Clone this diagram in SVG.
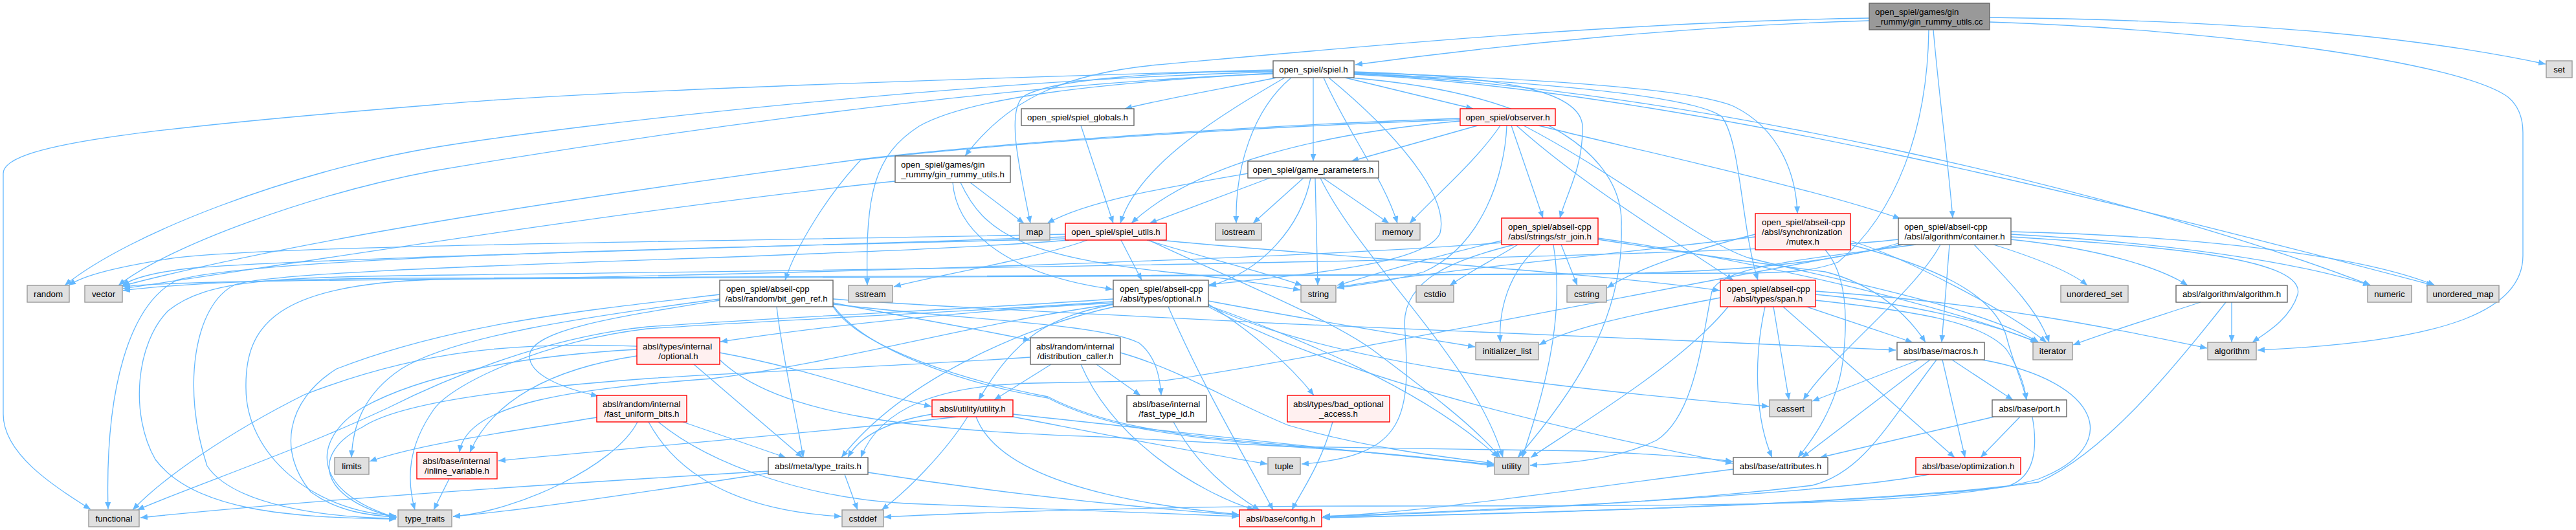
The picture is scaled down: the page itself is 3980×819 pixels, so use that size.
<svg xmlns="http://www.w3.org/2000/svg" width="3980" height="819" viewBox="0 0 3980 819">
<style>
.e path{fill:none;stroke:#63b8ff;stroke-width:1.3;marker-end:url(#ah)}
.n rect{stroke-width:1.4}
.ext rect{fill:#e0e0e0;stroke:#999999}
.loc rect{fill:#ffffff;stroke:#666666}
.tr rect{fill:#fff0f0;stroke:#ff0000}
.root rect{fill:#999999;stroke:#666666}
text{font-family:"Liberation Sans",Arial,Helvetica,sans-serif;font-size:13.3px;fill:#000}
.c{text-anchor:middle}
</style>
<defs>
<marker id="ah" viewBox="0 0 11 9" refX="11" refY="4.5" markerWidth="11" markerHeight="9" markerUnits="userSpaceOnUse" orient="auto"><path d="M0,0L11,4.5L0,9z" fill="#63b8ff"/></marker>
</defs>
<rect x="0" y="0" width="3980" height="819" fill="#ffffff"/>
<g class="e" id="edges">
<path d="M2888,32 C2600,40 2300,72 2094,100"/>
<path d="M2888,28 C2500,34 2100,72 1790,100 C1650,113 1560,150 1491,241"/>
<path d="M3074,27 C3500,32 3750,60 3933,99"/>
<path d="M3074,34 C3420,45 3800,95 3875,150 C3893,165 3898,185 3898,205 L3898,395 C3898,480 3780,528 3488,541"/>
<path d="M2987,46 C2996,150 3010,250 3017,337"/>
<path d="M2980,46 C2978,200 2930,330 2840,405 C2800,420 2760,421 2700,422 L600,430 C400,432 260,440 190,449"/>
<path d="M1967,108 C1600,118 900,140 670,162 C200,200 5,225 5,268 L5,640 C5,700 80,750 140,787"/>
<path d="M1967,111 C1500,124 900,190 670,228 C450,265 200,360 100,441"/>
<path d="M1967,114 C1500,130 900,225 670,264 C480,300 260,380 183,441"/>
<path d="M1967,110 C1800,110 1620,122 1580,150 C1555,175 1575,260 1592,345"/>
<path d="M1972,120 C1900,135 1800,152 1738,168"/>
<path d="M1985,120 C1900,170 1760,250 1731,345"/>
<path d="M1995,120 C1935,170 1908,260 1910,345"/>
<path d="M2029,120 L2029,249"/>
<path d="M2045,120 C2080,200 2140,280 2159,345"/>
<path d="M2078,120 L2276,168"/>
<path d="M2092,111 C2300,118 2450,135 2445,200 C2445,260 2420,300 2410,337"/>
<path d="M2092,112 C2400,122 2620,138 2680,165 C2750,200 2775,270 2777,330"/>
<path d="M2092,113 C2400,128 2620,150 2660,180 C2690,220 2690,350 2716,433"/>
<path d="M2092,114 C2600,135 3300,300 3663,441"/>
<path d="M2092,115 C2600,140 3300,320 3760,441"/>
<path d="M2053,120 C2150,200 2240,300 2225,360 C2205,410 2000,425 1868,440"/>
<path d="M2085,120 C2400,145 2510,250 2505,350 C2510,500 2420,620 2345,707"/>
<path d="M1967,113 C1700,128 1500,150 1420,195 C1350,240 1337,300 1340,441"/>
<path d="M2256,183 C1900,195 1500,225 1330,246 C1000,290 500,360 188,442"/>
<path d="M2256,185 C1900,197 1500,226 1330,247 C1280,300 1230,380 1213,433"/>
<path d="M2256,187 C2050,205 1850,250 1748,345"/>
<path d="M2283,194 L2088,249"/>
<path d="M2318,194 C2280,250 2220,300 2178,345"/>
<path d="M2328,194 C2325,270 2290,380 2200,420 C2150,435 2100,440 2066,445"/>
<path d="M2335,194 L2384,337"/>
<path d="M2343,194 C2450,290 2600,380 2678,433"/>
<path d="M2354,194 C2500,270 2620,370 2700,398 C2800,425 3050,470 3150,529"/>
<path d="M2377,194 C2500,225 2800,290 2936,338"/>
<path d="M1383,280 C1000,320 500,400 190,446"/>
<path d="M1499,282 L1582,345"/>
<path d="M1472,282 C1478,360 1560,425 1719,447"/>
<path d="M1484,282 C1520,360 1580,395 1800,420 C1900,430 1960,440 2009,448"/>
<path d="M1928,268 C1800,290 1680,310 1618,345"/>
<path d="M1962,275 L1776,345"/>
<path d="M2014,275 L1936,345"/>
<path d="M2025,275 C2010,350 1950,420 1868,442"/>
<path d="M2032,275 L2036,441"/>
<path d="M2040,275 C2100,400 2280,560 2322,707"/>
<path d="M2044,275 L2146,345"/>
<path d="M1646,362 C1200,372 400,378 260,400 C180,413 130,425 106,441"/>
<path d="M1646,366 C1200,382 500,398 300,414 C240,420 205,430 189,441"/>
<path d="M1648,369 C1000,385 400,398 273,433 C200,470 162,600 167,787"/>
<path d="M1652,371 C1300,400 450,410 363,440 C300,470 280,600 320,720 C360,780 500,800 612,801"/>
<path d="M1680,371 C1600,400 1450,425 1381,443"/>
<path d="M1732,371 L1764,433"/>
<path d="M1772,371 C1850,395 1950,420 2012,441"/>
<path d="M1775,371 C1900,430 2050,490 2120,540 C2200,600 2280,660 2318,707"/>
<path d="M1790,371 C2100,400 2450,420 2657,449"/>
<path d="M1670,194 L1720,345"/>
<path d="M2345,378 C2310,400 2270,420 2240,441"/>
<path d="M2412,378 L2437,441"/>
<path d="M2380,378 C2330,420 2315,480 2318,529"/>
<path d="M2320,372 C2200,400 2120,425 2066,441"/>
<path d="M2340,378 C2250,400 2170,430 2170,500 C2180,640 2175,705 2011,717"/>
<path d="M2400,378 C2420,500 2380,620 2352,707"/>
<path d="M2469,368 C2700,400 3000,470 3148,529"/>
<path d="M2320,375 C2000,400 1200,425 670,432 C430,440 378,500 380,600 C380,700 480,790 612,797"/>
<path d="M2469,370 C2600,390 2700,405 2820,420 C2900,440 2950,490 2975,529"/>
<path d="M2712,362 C2600,390 2520,420 2483,445"/>
<path d="M2712,366 C2500,392 2200,420 2066,444"/>
<path d="M2859,372 C2950,400 3100,480 3162,529"/>
<path d="M2820,386 C2850,420 2857,480 2847,560 C2837,630 2800,680 2778,707"/>
<path d="M2859,378 C2980,410 3080,450 3100,520 C3110,560 3125,590 3131,618"/>
<path d="M2998,378 C2960,450 2830,550 2786,618"/>
<path d="M3050,378 C3100,430 3150,480 3166,529"/>
<path d="M3080,378 C3150,400 3200,420 3225,441"/>
<path d="M3107,370 C3250,385 3340,415 3380,441"/>
<path d="M3107,362 C3350,375 3550,405 3662,441"/>
<path d="M3107,358 C3400,365 3650,395 3762,441"/>
<path d="M3107,366 C3300,378 3565,395 3550,455 C3538,495 3495,518 3480,529"/>
<path d="M3012,378 L3000,529"/>
<path d="M2960,378 C2800,400 2660,410 2645,450 C2630,520 2620,640 2560,680 C2500,710 2420,716 2364,719"/>
<path d="M2933,376 C2800,415 2600,423 2400,424 L700,431 C420,434 250,436 190,443"/>
<path d="M2933,370 C2700,398 1500,415 700,425 C420,428 320,432 260,480 C210,530 200,640 240,710 C300,790 450,800 612,802"/>
<path d="M2940,378 C2600,440 2000,560 1800,588 L1600,592 C1450,595 1360,630 1330,707"/>
<path d="M1112,462 C900,490 700,520 620,570 C560,610 545,660 543,707"/>
<path d="M1112,455 C900,480 700,500 520,570 C440,620 430,700 480,760 C520,790 570,797 613,799"/>
<path d="M1112,464 C950,490 820,510 818,550 C818,580 870,600 924,612"/>
<path d="M1200,474 C1210,560 1230,640 1241,707"/>
<path d="M1287,468 C1400,490 1520,510 1592,526"/>
<path d="M1287,470 C1500,495 1700,500 1760,530 C1785,550 1792,580 1794,611"/>
<path d="M1287,474 C1330,540 1500,590 1619,613 C1700,655 1800,672 1990,688 C2150,702 2250,712 2308,718"/>
<path d="M1287,472 C1340,545 1500,595 1619,615 C1700,657 1800,674 1990,690 L2450,697 C2560,702 2620,706 2677,713"/>
<path d="M1287,462 C1500,478 1800,490 1980,500 L2640,528 L2929,541"/>
<path d="M1720,468 C1500,480 1300,500 1113,528"/>
<path d="M1722,470 C1620,490 1570,520 1512,618"/>
<path d="M1805,474 C1860,600 1920,700 1967,788"/>
<path d="M1867,470 C1930,510 1990,560 2030,611"/>
<path d="M1867,465 C2000,490 2150,515 2279,536"/>
<path d="M1867,472 C2000,520 2200,600 2315,707"/>
<path d="M1867,472 C2050,560 2400,600 2733,628"/>
<path d="M1867,474 C2100,600 2500,680 2677,716"/>
<path d="M1720,462 C1500,478 1200,490 1000,505 C850,520 700,580 600,630 C450,700 300,750 212,788"/>
<path d="M1720,466 C1500,482 1200,494 1000,508 C850,525 700,590 670,633 C630,690 628,740 641,788"/>
<path d="M1720,470 C1500,500 1300,560 1100,585 C900,600 720,620 710,699"/>
<path d="M1722,474 C1600,500 1400,580 1300,707"/>
<path d="M2740,474 L2764,618"/>
<path d="M2727,474 C2708,560 2713,650 2738,707"/>
<path d="M2755,474 L3020,707"/>
<path d="M2791,474 L2955,529"/>
<path d="M2805,455 C2950,468 3080,500 3150,530"/>
<path d="M2805,464 C2950,480 3060,495 3100,540 C3120,570 3128,595 3131,618"/>
<path d="M2805,450 C3100,470 3300,515 3410,538"/>
<path d="M2658,460 C2500,490 2420,510 2378,533"/>
<path d="M2670,474 C2600,560 2450,650 2365,707"/>
<path d="M3448,467 L3448,529"/>
<path d="M3400,467 C3330,490 3250,515 3203,533"/>
<path d="M3439,467 C3350,580 3250,700 3150,745 C2900,780 2300,795 2043,800"/>
<path d="M1072,563 L1240,707"/>
<path d="M984,550 C850,570 760,620 726,699"/>
<path d="M984,540 C800,550 650,580 560,630 C480,680 480,760 612,800"/>
<path d="M984,535 C800,528 650,540 470,610 C350,670 250,740 205,788"/>
<path d="M1112,545 C1250,570 1350,610 1439,628"/>
<path d="M1112,556 C1200,640 1400,665 1700,675 L1990,690 C2150,700 2250,712 2308,720"/>
<path d="M1624,563 L1536,618"/>
<path d="M1694,563 L1762,611"/>
<path d="M1670,563 C1720,680 1850,760 1938,788"/>
<path d="M1731,545 C1820,570 1900,620 1990,657 C2100,690 2220,705 2308,716"/>
<path d="M1592,552 C1400,565 1150,575 1000,585 C800,600 620,620 560,660 C480,700 490,770 612,800"/>
<path d="M985,652 C950,720 800,790 700,798"/>
<path d="M1002,652 C1050,740 1150,790 1300,798"/>
<path d="M1017,652 C1100,720 1250,770 1400,778 L1914,798"/>
<path d="M1055,652 L1214,707"/>
<path d="M922,645 C800,665 650,685 571,713"/>
<path d="M1480,644 C1300,665 1000,690 770,712"/>
<path d="M1495,644 C1460,700 1400,760 1362,788"/>
<path d="M1508,644 C1540,730 1700,775 1914,795"/>
<path d="M1565,640 C1800,665 2100,700 2308,718"/>
<path d="M1565,644 C1700,670 1850,700 1958,717"/>
<path d="M1440,640 C1380,650 1330,670 1310,707"/>
<path d="M1813,652 C1850,720 1900,760 1946,788"/>
<path d="M2059,652 C2040,720 2010,760 1996,788"/>
<path d="M2965,556 L2800,620"/>
<path d="M2982,556 L2784,707"/>
<path d="M2992,556 C2920,650 2880,730 2800,750 C2600,775 2300,790 2044,799"/>
<path d="M3001,556 L3036,707"/>
<path d="M3016,556 L3110,618"/>
<path d="M3063,556 C3250,590 3280,690 3150,740 C3000,785 2600,781 2100,782 C1800,782 1500,792 1366,799"/>
<path d="M3081,644 L2812,707"/>
<path d="M3121,644 L3060,707"/>
<path d="M3140,644 C3150,700 3140,740 3100,752 C2900,777 2400,792 2044,800"/>
<path d="M2678,725 C2400,760 2200,792 2044,798"/>
<path d="M2980,733 C2850,760 2400,785 2044,798"/>
<path d="M1305,733 L1325,788"/>
<path d="M1187,728 C900,745 500,770 217,800"/>
<path d="M1187,731 C1000,760 800,790 700,798"/>
<path d="M1341,730 C1500,755 1700,780 1914,796"/>
<path d="M694,740 L670,788"/>
</g>
<g id="n1" class="n root"><rect x="2888" y="5" width="186" height="41"/><text x="2897" y="23">open_spiel/games/gin</text><text class="c" x="2981" y="38">_rummy/gin_rummy_utils.cc</text></g>
<g id="n2" class="n loc"><rect x="1967" y="94" width="125" height="26"/><text class="c" x="2029.5" y="111.5">open_spiel/spiel.h</text></g>
<g id="n3" class="n ext"><rect x="3934" y="94" width="40" height="26"/><text class="c" x="3954" y="111.5">set</text></g>
<g id="n4" class="n loc"><rect x="1578" y="168" width="174" height="26"/><text class="c" x="1665" y="185.5">open_spiel/spiel_globals.h</text></g>
<g id="n5" class="n tr"><rect x="2256" y="168" width="147" height="26"/><text class="c" x="2329.5" y="185.5">open_spiel/observer.h</text></g>
<g id="n6" class="n loc"><rect x="1383" y="241" width="178" height="41"/><text x="1392" y="259">open_spiel/games/gin</text><text class="c" x="1472" y="274">_rummy/gin_rummy_utils.h</text></g>
<g id="n7" class="n loc"><rect x="1928" y="249" width="202" height="26"/><text class="c" x="2029" y="266.5">open_spiel/game_parameters.h</text></g>
<g id="n8" class="n ext"><rect x="1575" y="345" width="47" height="26"/><text class="c" x="1598.5" y="362.5">map</text></g>
<g id="n9" class="n tr"><rect x="1646" y="345" width="156" height="26"/><text class="c" x="1724" y="362.5">open_spiel/spiel_utils.h</text></g>
<g id="n10" class="n ext"><rect x="1878" y="345" width="71" height="26"/><text class="c" x="1913.5" y="362.5">iostream</text></g>
<g id="n11" class="n ext"><rect x="2125" y="345" width="69" height="26"/><text class="c" x="2159.5" y="362.5">memory</text></g>
<g id="n12" class="n tr"><rect x="2320" y="337" width="149" height="41"/><text x="2330" y="355">open_spiel/abseil-cpp</text><text class="c" x="2394.5" y="370">/absl/strings/str_join.h</text></g>
<g id="n13" class="n tr"><rect x="2712" y="330" width="147" height="56"/><text x="2722" y="348">open_spiel/abseil-cpp</text><text x="2722" y="363">/absl/synchronization</text><text class="c" x="2785.5" y="378">/mutex.h</text></g>
<g id="n14" class="n loc"><rect x="2933" y="337" width="174" height="41"/><text x="2942" y="355">open_spiel/abseil-cpp</text><text class="c" x="3020" y="370">/absl/algorithm/container.h</text></g>
<g id="n15" class="n ext"><rect x="42" y="441" width="65" height="26"/><text class="c" x="74.5" y="458.5">random</text></g>
<g id="n16" class="n ext"><rect x="131" y="441" width="58" height="26"/><text class="c" x="160" y="458.5">vector</text></g>
<g id="n17" class="n loc"><rect x="1112" y="433" width="175" height="41"/><text x="1122" y="451">open_spiel/abseil-cpp</text><text class="c" x="1199.5" y="466">/absl/random/bit_gen_ref.h</text></g>
<g id="n18" class="n ext"><rect x="1311" y="441" width="68" height="26"/><text class="c" x="1345" y="458.5">sstream</text></g>
<g id="n19" class="n loc"><rect x="1720" y="433" width="147" height="41"/><text x="1730" y="451">open_spiel/abseil-cpp</text><text class="c" x="1793.5" y="466">/absl/types/optional.h</text></g>
<g id="n20" class="n ext"><rect x="2010" y="441" width="54" height="26"/><text class="c" x="2037" y="458.5">string</text></g>
<g id="n21" class="n ext"><rect x="2188" y="441" width="58" height="26"/><text class="c" x="2217" y="458.5">cstdio</text></g>
<g id="n22" class="n ext"><rect x="2421" y="441" width="61" height="26"/><text class="c" x="2451.5" y="458.5">cstring</text></g>
<g id="n23" class="n tr"><rect x="2658" y="433" width="147" height="41"/><text x="2668" y="451">open_spiel/abseil-cpp</text><text class="c" x="2731.5" y="466">/absl/types/span.h</text></g>
<g id="n24" class="n ext"><rect x="3184" y="441" width="104" height="26"/><text class="c" x="3236" y="458.5">unordered_set</text></g>
<g id="n25" class="n loc"><rect x="3362" y="441" width="172" height="26"/><text class="c" x="3448" y="458.5">absl/algorithm/algorithm.h</text></g>
<g id="n26" class="n ext"><rect x="3658" y="441" width="68" height="26"/><text class="c" x="3692" y="458.5">numeric</text></g>
<g id="n27" class="n ext"><rect x="3750" y="441" width="111" height="26"/><text class="c" x="3805.5" y="458.5">unordered_map</text></g>
<g id="n28" class="n tr"><rect x="984" y="522" width="128" height="41"/><text x="993" y="540">absl/types/internal</text><text class="c" x="1048" y="555">/optional.h</text></g>
<g id="n29" class="n loc"><rect x="1592" y="522" width="139" height="41"/><text x="1601" y="540">absl/random/internal</text><text class="c" x="1661.5" y="555">/distribution_caller.h</text></g>
<g id="n30" class="n ext"><rect x="2280" y="529" width="97" height="27"/><text class="c" x="2328.5" y="546.5">initializer_list</text></g>
<g id="n31" class="n loc"><rect x="2931" y="529" width="135" height="27"/><text class="c" x="2998.5" y="546.5">absl/base/macros.h</text></g>
<g id="n32" class="n ext"><rect x="3141" y="529" width="61" height="27"/><text class="c" x="3171.5" y="546.5">iterator</text></g>
<g id="n33" class="n ext"><rect x="3411" y="529" width="75" height="27"/><text class="c" x="3448.5" y="546.5">algorithm</text></g>
<g id="n34" class="n tr"><rect x="922" y="611" width="139" height="41"/><text x="931" y="629">absl/random/internal</text><text class="c" x="991.5" y="644">/fast_uniform_bits.h</text></g>
<g id="n35" class="n tr"><rect x="1440" y="618" width="125" height="26"/><text class="c" x="1502.5" y="635.5">absl/utility/utility.h</text></g>
<g id="n36" class="n loc"><rect x="1741" y="611" width="123" height="41"/><text x="1750" y="629">absl/base/internal</text><text class="c" x="1802.5" y="644">/fast_type_id.h</text></g>
<g id="n37" class="n tr"><rect x="1989" y="611" width="158" height="41"/><text x="1998" y="629">absl/types/bad_optional</text><text class="c" x="2068" y="644">_access.h</text></g>
<g id="n38" class="n ext"><rect x="2734" y="618" width="65" height="26"/><text class="c" x="2766.5" y="635.5">cassert</text></g>
<g id="n39" class="n loc"><rect x="3078" y="618" width="115" height="26"/><text class="c" x="3135.5" y="635.5">absl/base/port.h</text></g>
<g id="n40" class="n ext"><rect x="517" y="707" width="53" height="26"/><text class="c" x="543.5" y="724.5">limits</text></g>
<g id="n41" class="n tr"><rect x="644" y="699" width="124" height="41"/><text x="653" y="717">absl/base/internal</text><text class="c" x="706" y="732">/inline_variable.h</text></g>
<g id="n42" class="n loc"><rect x="1187" y="707" width="154" height="26"/><text class="c" x="1264" y="724.5">absl/meta/type_traits.h</text></g>
<g id="n43" class="n ext"><rect x="1959" y="707" width="50" height="26"/><text class="c" x="1984" y="724.5">tuple</text></g>
<g id="n44" class="n ext"><rect x="2309" y="707" width="53" height="26"/><text class="c" x="2335.5" y="724.5">utility</text></g>
<g id="n45" class="n loc"><rect x="2678" y="707" width="146" height="26"/><text class="c" x="2751" y="724.5">absl/base/attributes.h</text></g>
<g id="n46" class="n tr"><rect x="2960" y="707" width="162" height="26"/><text class="c" x="3041" y="724.5">absl/base/optimization.h</text></g>
<g id="n47" class="n ext"><rect x="137" y="788" width="78" height="26"/><text class="c" x="176" y="805.5">functional</text></g>
<g id="n48" class="n ext"><rect x="615" y="788" width="83" height="26"/><text class="c" x="656.5" y="805.5">type_traits</text></g>
<g id="n49" class="n ext"><rect x="1301" y="788" width="64" height="26"/><text class="c" x="1333" y="805.5">cstddef</text></g>
<g id="n50" class="n tr"><rect x="1915" y="788" width="127" height="26"/><text class="c" x="1978.5" y="805.5">absl/base/config.h</text></g>
</svg>
